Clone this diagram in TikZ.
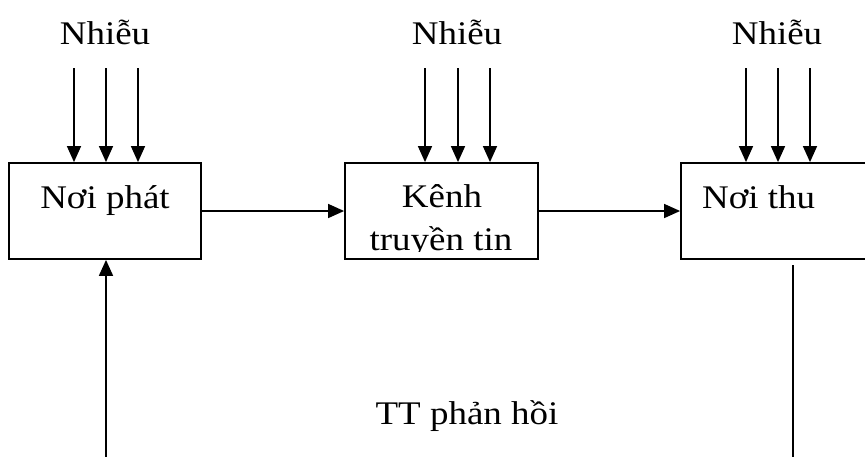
\documentclass[tikz,border=0pt]{standalone}
\usepackage{fontspec}
\setmainfont[FakeStretch=1.12]{Liberation Serif}
\usetikzlibrary{arrows.meta}
\begin{document}
\begin{tikzpicture}[x=1pt,y=-1pt,
  blockbox/.style={draw,line width=1.8pt,inner sep=0pt},
  lbl/.style={anchor=base,inner sep=0pt,font=\fontsize{33}{39}\selectfont},
  flow/.style={line width=1.4pt,-{Triangle[length=16pt,width=14pt]}},
  wire/.style={line width=1.4pt}]
\useasboundingbox (0,0) rectangle (865,456);
\clip (0,0) rectangle (865,456);

% blocks
\node[blockbox,minimum width=192pt,minimum height=96pt] (src) at (105,211) {};
\node[blockbox,minimum width=193pt,minimum height=96pt] (chan) at (441.5,211) {};
\node[blockbox,minimum width=200pt,minimum height=96pt] (dst) at (781,211) {};

% block texts
\node[lbl] (srct) at (105,208) {Nơi phát};
\node[lbl] (chant1) at (442,207) {Kênh};
\begin{scope}
  \clip (345,163) rectangle (538,251);
  \node[lbl] (chant2) at (441,250) {truyền tin};
\end{scope}
\node[lbl,anchor=base west] (dstt) at (702,208) {Nơi thu};

% noise labels
\node[lbl] (n1) at (105,44) {Nhiễu};
\node[lbl] (n2) at (457,44) {Nhiễu};
\node[lbl] (n3) at (777,44) {Nhiễu};

% noise arrows
\foreach \x in {74,106,138} {
  \coordinate (a\x) at (\x,68);
  \draw[flow] (a\x) -- (a\x |- src.north);
}
\foreach \x in {425,458,490} {
  \coordinate (b\x) at (\x,68);
  \draw[flow] (b\x) -- (b\x |- chan.north);
}
\foreach \x in {746,778,810} {
  \coordinate (c\x) at (\x,68);
  \draw[flow] (c\x) -- (c\x |- dst.north);
}

% main flow
\draw[flow] (src.east) -- (chan.west);
\draw[flow] (chan.east) -- (dst.west);

% feedback
\coordinate (fbl) at (106,460);
\coordinate (fbrtop) at (793,265);
\coordinate (fbr) at (793,460);
\draw[flow,line width=1.8pt] (fbl) -- (fbl |- src.south);
\draw[wire] (fbrtop) -- (fbr);
\node[lbl] (fbt) at (467,424) {TT phản hồi};
\end{tikzpicture}
\end{document}
